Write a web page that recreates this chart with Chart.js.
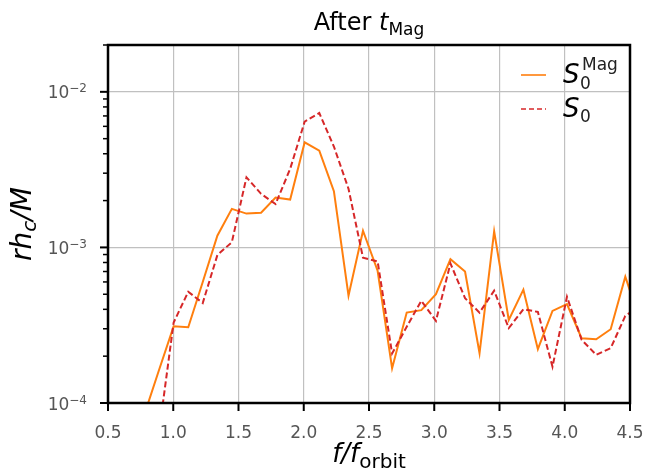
<!DOCTYPE html>
<html>
<head>
<meta charset="utf-8">
<script src="https://cdn.jsdelivr.net/npm/chart.js@4"></script>
<style>
  body { margin: 0; background: #fff; }
  #chart { display: block; }
</style>
</head>
<body>
<canvas id="chart" width="646" height="470"></canvas>
<script>
// f / f_orbit sample frequencies
const freq = [0.780, 0.891, 1.003, 1.115, 1.226, 1.338, 1.449, 1.561, 1.673, 1.784,
              1.896, 2.007, 2.119, 2.231, 2.343, 2.454, 2.566, 2.677, 2.789, 2.901,
              3.013, 3.124, 3.236, 3.347, 3.459, 3.571, 3.683, 3.794, 3.906, 4.017,
              4.129, 4.241, 4.352, 4.464, 4.576];

// S_0^Mag (solid orange)
const sMag = [8.5e-5, 1.63e-4, 3.11e-4, 3.07e-4, 6.0e-4, 1.19e-3, 1.77e-3, 1.65e-3, 1.67e-3, 2.09e-3,
              2.03e-3, 4.74e-3, 4.19e-3, 2.30e-3, 4.89e-4, 1.28e-3, 7.08e-4, 1.67e-4, 3.81e-4, 3.95e-4,
              5.01e-4, 8.41e-4, 7.0e-4, 2.09e-4, 1.27e-3, 3.42e-4, 5.35e-4, 2.22e-4, 3.91e-4, 4.32e-4,
              2.61e-4, 2.57e-4, 2.98e-4, 6.48e-4, 3.4e-4];

// S_0 (dashed red)
const s0 = [4e-5, 6.5e-5, 3.29e-4, 5.19e-4, 4.39e-4, 8.93e-4, 1.08e-3, 2.82e-3, 2.21e-3, 1.90e-3,
            3.20e-3, 6.44e-3, 7.31e-3, 4.45e-3, 2.38e-3, 8.59e-4, 8.13e-4, 2.08e-4, 3.09e-4, 4.54e-4,
            3.37e-4, 7.89e-4, 4.72e-4, 3.81e-4, 5.27e-4, 3.03e-4, 4.01e-4, 3.85e-4, 1.71e-4, 4.82e-4,
            2.55e-4, 2.04e-4, 2.25e-4, 3.63e-4, 4.2e-4];

const xTicks = [0.5, 1.0, 1.5, 2.0, 2.5, 3.0, 3.5, 4.0, 4.5];
const xTickLabels = ['0.5', '1.0', '1.5', '2.0', '2.5', '3.0', '3.5', '4.0', '4.5'];
const yMajorTicks = [1e-4, 1e-3, 1e-2];
const yMajorExp = ['\u22124', '\u22123', '\u22122'];
const yMinorTicks = [2e-4, 3e-4, 4e-4, 5e-4, 6e-4, 7e-4, 8e-4, 9e-4,
                     2e-3, 3e-3, 4e-3, 5e-3, 6e-3, 7e-3, 8e-3, 9e-3, 2e-2];

const FONT = "'DejaVu Sans', sans-serif";
const ORANGE = '#ff7f0e';
const RED = '#d62728';
const TICK_TEXT = '#555555';
const GRID = '#c0c0c0';

// draw a run of [text, font, dy] pieces starting at x, returns end x
function drawRun(ctx, pieces, x, y) {
    pieces.forEach(p => {
        ctx.font = p[1];
        ctx.fillText(p[0], x, y + (p[2] || 0));
        x += ctx.measureText(p[0]).width;
    });
    return x;
}
function runWidth(ctx, pieces) {
    let w = 0;
    pieces.forEach(p => { ctx.font = p[1]; w += ctx.measureText(p[0]).width; });
    return w;
}

const decorations = {
    id: 'decorations',
    afterDraw(chart) {
        const ctx = chart.ctx;
        const area = chart.chartArea;
        const xs = chart.scales.x;
        const ys = chart.scales.y;
        ctx.save();
        ctx.textBaseline = 'alphabetic';

        // frame
        ctx.strokeStyle = '#000';
        ctx.lineWidth = 2.5;
        ctx.strokeRect(area.left, area.top, area.right - area.left, area.bottom - area.top);

        // x ticks + labels
        ctx.lineWidth = 2;
        ctx.fillStyle = TICK_TEXT;
        ctx.textAlign = 'center';
        ctx.font = '17px ' + FONT;
        xTicks.forEach((v, i) => {
            const px = xs.getPixelForValue(v);
            ctx.beginPath();
            ctx.moveTo(px, area.bottom);
            ctx.lineTo(px, area.bottom + 8);
            ctx.stroke();
            ctx.fillText(xTickLabels[i], px, area.bottom + 35);
        });

        // y major ticks + 10^n labels
        ctx.textAlign = 'left';
        yMajorTicks.forEach((v, i) => {
            const py = ys.getPixelForValue(v);
            ctx.lineWidth = 2;
            ctx.beginPath();
            ctx.moveTo(area.left - 8, py);
            ctx.lineTo(area.left, py);
            ctx.stroke();
            const pieces = [['10', '17px ' + FONT, 0], [yMajorExp[i], '12px ' + FONT, -6]];
            const w = runWidth(ctx, pieces);
            drawRun(ctx, pieces, area.left - 21 - w, py + 6.5);
        });
        // y minor ticks
        ctx.lineWidth = 1.5;
        yMinorTicks.forEach(v => {
            const py = ys.getPixelForValue(v);
            ctx.beginPath();
            ctx.moveTo(area.left - 5, py);
            ctx.lineTo(area.left, py);
            ctx.stroke();
        });

        // title: After t_Mag
        ctx.fillStyle = '#000';
        const title = [['After ', '24px ' + FONT, 0], ['t', 'italic 24px ' + FONT, 0], ['Mag', '17px ' + FONT, 5]];
        const cx = (area.left + area.right) / 2;
        drawRun(ctx, title, cx - runWidth(ctx, title) / 2, 30);

        // x label: f/f_orbit
        const xlab = [['f/f', 'italic 26px ' + FONT, 0], ['orbit', '20px ' + FONT, 6]];
        drawRun(ctx, xlab, cx - runWidth(ctx, xlab) / 2, 462);

        // y label: r h_c / M (rotated)
        const ylab = [['rh', 'italic 28px ' + FONT, 0], ['c', 'italic 20px ' + FONT, 5], ['/M', 'italic 28px ' + FONT, 0]];
        ctx.save();
        ctx.translate(31, (area.top + area.bottom) / 2);
        ctx.rotate(-Math.PI / 2);
        drawRun(ctx, ylab, -runWidth(ctx, ylab) / 2, 0);
        ctx.restore();

        // legend
        ctx.lineWidth = 1.6;
        ctx.strokeStyle = ORANGE;
        ctx.beginPath();
        ctx.moveTo(521, 75);
        ctx.lineTo(546, 75);
        ctx.stroke();
        ctx.strokeStyle = RED;
        ctx.setLineDash([5, 3]);
        ctx.beginPath();
        ctx.moveTo(521, 109);
        ctx.lineTo(546, 109);
        ctx.stroke();
        ctx.setLineDash([]);

        ctx.fillStyle = '#000';
        ctx.font = 'italic 26px ' + FONT;
        ctx.fillText('S', 563, 83);
        ctx.fillText('S', 563, 117);
        ctx.fillStyle = '#222';
        ctx.font = '17px ' + FONT;
        ctx.fillText('0', 580, 89);
        ctx.fillText('0', 580, 122);
        ctx.fillText('Mag', 582, 70);

        ctx.restore();
    }
};

new Chart(document.getElementById('chart'), {
    type: 'line',
    data: {
        datasets: [
            {
                label: 'S0 Mag',
                data: freq.map((f, i) => ({ x: f, y: sMag[i] })),
                borderColor: ORANGE,
                borderWidth: 2,
                pointRadius: 0,
                tension: 0,
                order: 2
            },
            {
                label: 'S0',
                data: freq.map((f, i) => ({ x: f, y: s0[i] })),
                borderColor: RED,
                borderWidth: 2,
                borderDash: [6, 3],
                pointRadius: 0,
                tension: 0,
                order: 1
            }
        ]
    },
    options: {
        responsive: false,
        animation: false,
        devicePixelRatio: 1,
        layout: { padding: { top: 45, right: 16, left: 0, bottom: 0 } },
        plugins: {
            legend: { display: false },
            title: { display: false },
            tooltip: { enabled: false }
        },
        scales: {
            x: {
                type: 'linear',
                min: 0.5,
                max: 4.5,
                ticks: { display: false, stepSize: 0.5 },
                grid: { color: GRID, lineWidth: 1.2, drawTicks: false },
                border: { display: false },
                afterFit: s => { s.height = 67; }
            },
            y: {
                type: 'logarithmic',
                min: 1e-4,
                max: 0.02,
                ticks: { display: false },
                afterBuildTicks: s => { s.ticks = yMajorTicks.map(v => ({ value: v })); },
                grid: { color: GRID, lineWidth: 1.2, drawTicks: false },
                border: { display: false },
                afterFit: s => { s.height = undefined; s.width = 108; }
            }
        }
    },
    plugins: [decorations]
});
</script>
</body>
</html>
